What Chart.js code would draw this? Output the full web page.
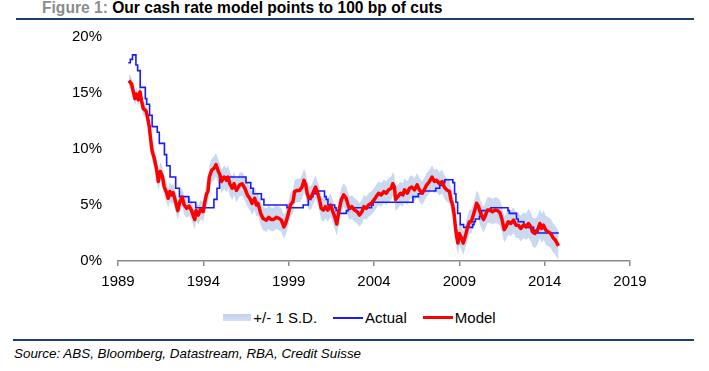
<!DOCTYPE html>
<html>
<head>
<meta charset="utf-8">
<script src="https://cdn.jsdelivr.net/npm/chart.js@4"></script>
<style>
  body { margin: 0; background: #fff; font-family: "Liberation Sans", Arial, sans-serif; }
  #wrap { position: relative; width: 709px; height: 371px; overflow: hidden; }
  #chart { position: absolute; left: 0; top: 0; }
  .title { position: absolute; left: 42px; top: -1px; font-size: 15.6px; font-weight: bold; color: #000; white-space: nowrap; }
  .title span { color: #8c8c8c; }
  .rule { position: absolute; left: 16px; width: 678px; height: 2px; background: #1c3f6e; }
  .legend { position: absolute; top: 309px; left: 0; width: 709px; display: flex; justify-content: center; align-items: center; font-size: 15px; padding-left: 10px; box-sizing: border-box; }
  .legend .item { display: flex; align-items: center; margin: 0 8px; }
  .legend .sw { display: inline-block; margin-right: 2px; }
  .source { position: absolute; left: 14px; top: 346px; font-size: 13.4px; font-style: italic; white-space: nowrap; }
</style>
</head>
<body>
<div id="wrap">
  <div class="title"><span>Figure 1: </span>Our cash rate model points to 100 bp of cuts</div>
  <div class="rule" style="top:18px"></div>
  <canvas id="chart" width="709" height="300"></canvas>
  <div class="legend">
    <div class="item"><span class="sw" style="width:28px;height:7px;background:linear-gradient(#c2d1ec,#d4dff2)"></span>+/- 1 S.D.</div>
    <div class="item"><span class="sw" style="width:30px;height:2px;background:#1a1aff"></span>Actual</div>
    <div class="item"><span class="sw" style="width:30px;height:3px;background:#ff0000"></span>Model</div>
  </div>
  <div class="rule" style="top:339px;left:13px;width:681px;height:1.5px"></div>
  <div class="source">Source: ABS, Bloomberg, Datastream, RBA, Credit Suisse</div>
</div>
<script>
// x axis ticks (years)
const yearTicks = [1989, 1994, 1999, 2004, 2009, 2014, 2019];
const rateTicks = [0, 5, 10, 15, 20];

// RBA cash rate, change dates and new level (%)
const actualDates = [1989.60, 1989.72, 1989.85, 1990.05, 1990.15, 1990.30, 1990.60, 1990.68, 1990.85, 1991.00, 1991.30,
  1991.42, 1991.72, 1991.85, 1992.05, 1992.38, 1992.60, 1993.15, 1993.55, 1994.62, 1994.80,
  1994.95, 1996.50, 1996.78, 1996.92, 1997.40, 1997.55, 1998.90, 1999.85, 2000.15, 2000.30,
  2000.42, 2000.62, 2001.10, 2001.20, 2001.30, 2001.70, 2001.78, 2001.90, 2002.38, 2002.50,
  2003.85, 2003.95, 2006.28, 2006.60, 2006.85, 2007.62, 2007.85, 2008.05, 2008.15, 2008.62,
  2008.72, 2008.80, 2008.90, 2009.05, 2009.25, 2009.78, 2009.86, 2009.94, 2010.18, 2010.24,
  2010.30, 2010.85, 2011.85, 2011.93, 2012.35, 2012.45, 2012.78, 2012.93, 2013.35, 2013.60,
  2014.83];
const actualRates = [17.7, 18.0, 18.4, 17.5, 17.0, 15.5, 14.5, 14.0, 13.0, 12.0, 11.5,
  10.5, 9.5, 8.5, 7.5, 6.5, 5.75, 5.25, 4.75, 5.5, 6.5,
  7.5, 7.0, 6.5, 6.0, 5.5, 5.0, 4.75, 5.0, 5.5, 5.75,
  6.0, 6.25, 5.75, 5.5, 5.0, 4.75, 4.5, 4.25, 4.5, 4.75,
  5.0, 5.25, 5.75, 6.0, 6.25, 6.5, 6.75, 7.0, 7.25, 7.0,
  6.0, 5.25, 4.25, 3.25, 3.0, 3.25, 3.5, 3.75, 4.0, 4.25,
  4.5, 4.75, 4.5, 4.25, 3.75, 3.5, 3.25, 3.0, 2.75, 2.5,
  2.5];

// model estimate (%)
const modelDates = [1989.64, 1989.80, 1989.90, 1989.99, 1990.09, 1990.19, 1990.29, 1990.38, 1990.48, 1990.64,
  1990.71, 1990.83, 1990.91, 1991.00, 1991.12, 1991.26, 1991.36, 1991.48, 1991.61, 1991.71,
  1991.85, 1991.94, 1992.04, 1992.14, 1992.23, 1992.39, 1992.50, 1992.63, 1992.76, 1992.88,
  1993.02, 1993.17, 1993.31, 1993.44, 1993.50, 1993.57, 1993.70, 1993.84, 1993.99, 1994.09,
  1994.19, 1994.27, 1994.35, 1994.49, 1994.64, 1994.74, 1994.88, 1994.97, 1995.07, 1995.22,
  1995.36, 1995.45, 1995.55, 1995.69, 1995.80, 1995.94, 1996.13, 1996.27, 1996.43, 1996.58,
  1996.72, 1996.85, 1997.01, 1997.11, 1997.20, 1997.36, 1997.50, 1997.69, 1997.83, 1997.99,
  1998.10, 1998.28, 1998.43, 1998.57, 1998.72, 1998.82, 1998.96, 1999.10, 1999.25, 1999.35,
  1999.49, 1999.64, 1999.78, 1999.90, 2000.00, 2000.09, 2000.19, 2000.32, 2000.46, 2000.58,
  2000.71, 2000.81, 2000.91, 2001.04, 2001.16, 2001.29, 2001.46, 2001.59, 2001.73, 2001.82,
  2001.94, 2002.08, 2002.22, 2002.37, 2002.50, 2002.60, 2002.70, 2002.86, 2003.02, 2003.15,
  2003.29, 2003.41, 2003.55, 2003.68, 2003.84, 2004.00, 2004.13, 2004.27, 2004.42, 2004.58,
  2004.72, 2004.85, 2005.01, 2005.10, 2005.20, 2005.26, 2005.40, 2005.55, 2005.69, 2005.79,
  2005.95, 2006.08, 2006.21, 2006.37, 2006.53, 2006.66, 2006.82, 2006.96, 2007.09, 2007.25,
  2007.40, 2007.54, 2007.67, 2007.83, 2007.99, 2008.12, 2008.26, 2008.42, 2008.51, 2008.61,
  2008.69, 2008.77, 2008.84, 2008.92, 2009.00, 2009.12, 2009.23, 2009.35, 2009.49, 2009.59,
  2009.70, 2009.82, 2009.94, 2010.01, 2010.13, 2010.21, 2010.32, 2010.42, 2010.51, 2010.65,
  2010.79, 2010.94, 2011.10, 2011.24, 2011.38, 2011.50, 2011.63, 2011.73, 2011.87, 2012.02,
  2012.18, 2012.31, 2012.45, 2012.60, 2012.76, 2012.90, 2013.05, 2013.19, 2013.29, 2013.43,
  2013.58, 2013.72, 2013.82, 2013.93, 2014.07, 2014.21, 2014.36, 2014.50, 2014.61, 2014.72,
  2014.81];
const modelRates = [16.1, 15.8, 15.1, 14.5, 14.9, 14.4, 15.1, 14.3, 13.6, 13.4,
  13.0, 12.0, 10.9, 9.8, 9.2, 8.2, 7.1, 8.0, 7.5, 6.6,
  6.1, 5.6, 6.2, 5.9, 6.1, 5.2, 4.5, 5.3, 5.7, 5.0,
  4.7, 4.9, 4.5, 3.9, 3.7, 4.5, 4.1, 4.6, 4.4, 5.3,
  6.0, 6.2, 7.5, 8.1, 8.3, 8.6, 8.0, 7.7, 7.1, 7.5,
  7.2, 7.5, 6.9, 6.5, 6.9, 6.3, 6.8, 6.9, 6.5, 5.9,
  5.6, 5.15, 5.6, 5.0, 5.15, 4.25, 3.8, 3.65, 3.9, 3.7,
  3.7, 3.9, 3.8, 3.65, 3.05, 3.35, 4.1, 5.0, 5.3, 6.2,
  6.3, 6.3, 6.6, 7.2, 6.8, 6.0, 5.6, 5.7, 6.2, 6.6,
  6.0, 5.45, 4.7, 4.55, 4.85, 4.55, 5.0, 4.4, 3.8, 3.3,
  4.4, 5.45, 5.9, 5.6, 4.9, 4.7, 4.85, 4.55, 4.4, 4.1,
  4.4, 4.85, 4.7, 5.0, 5.15, 5.45, 5.75, 6.05, 5.9, 6.2,
  6.05, 6.35, 6.5, 6.9, 6.6, 5.5, 5.75, 6.05, 5.9, 6.35,
  6.05, 6.5, 6.6, 6.35, 6.8, 6.35, 6.05, 6.4, 6.8, 7.1,
  7.5, 7.1, 7.2, 6.9, 7.1, 6.6, 6.35, 6.2, 5.45, 5.0,
  4.25, 3.05, 2.2, 1.6, 2.45, 2.05, 1.6, 2.2, 3.05, 3.5,
  3.5, 4.1, 4.7, 5.15, 4.85, 4.4, 4.0, 3.7, 4.0, 4.55,
  4.55, 4.4, 4.55, 4.5, 4.3, 3.7, 2.8, 3.05, 3.5, 3.35,
  3.65, 3.2, 3.2, 2.9, 3.2, 3.05, 3.35, 3.05, 2.6, 2.45,
  2.75, 3.35, 2.9, 3.2, 2.75, 2.6, 2.45, 2.05, 1.9, 1.6,
  1.35];

// one standard deviation of the model, by period start year
const sdFromYear = [1989, 1991, 1994, 2010, 2013];
const sdWidth = [0.6, 0.85, 1.05, 1.15, 1.3];

function sdAt(year) {
  let s = sdWidth[0];
  sdFromYear.forEach((y, i) => { if (year >= y) s = sdWidth[i]; });
  return s;
}

const modelPts = modelDates.map((d, i) => ({ x: d, y: modelRates[i] }));
const upperPts = modelDates.map((d, i) => ({ x: d, y: modelRates[i] + sdAt(d) }));
const lowerPts = modelDates.map((d, i) => ({ x: d, y: modelRates[i] - sdAt(d) }));
const actualPts = actualDates.map((d, i) => ({ x: d, y: actualRates[i] }));

const font = { family: '"Liberation Sans", Arial, sans-serif', size: 15 };

new Chart(document.getElementById('chart'), {
  type: 'line',
  data: {
    datasets: [
      { label: '+1 SD', data: upperPts, borderWidth: 0, pointRadius: 0, fill: '+1',
        backgroundColor: 'rgba(196,212,238,0.9)', borderColor: 'rgba(0,0,0,0)', order: 3 },
      { label: '-1 SD', data: lowerPts, borderWidth: 0, pointRadius: 0, fill: false,
        borderColor: 'rgba(0,0,0,0)', order: 4 },
      { label: 'Actual', data: actualPts, stepped: 'before', borderColor: '#1a1aff',
        borderWidth: 1.6, pointRadius: 0, fill: false, order: 1 },
      { label: 'Model', data: modelPts, borderColor: '#ff0000', borderWidth: 3.5,
        pointRadius: 0, fill: false, tension: 0, order: 0, borderJoinStyle: 'round' }
    ]
  },
  options: {
    responsive: false,
    animation: false,
    events: [],
    layout: { padding: { top: 37, right: 79, bottom: 7, left: 0 } },
    plugins: { legend: { display: false }, tooltip: { enabled: false } },
    scales: {
      x: {
        type: 'linear', min: 1989, max: 2019,
        afterBuildTicks: s => { s.ticks = yearTicks.map(v => ({ value: v })); },
        afterFit: s => { s.height = 32; },
        border: { display: true, color: '#8a8a8a', width: 1.5 },
        grid: { drawOnChartArea: false, drawTicks: true, tickLength: 5, color: '#8a8a8a', lineWidth: 1.5 },
        ticks: { color: '#000', font: font, padding: 7, maxRotation: 0, callback: v => String(v) }
      },
      y: {
        min: 0, max: 20,
        afterBuildTicks: s => { s.ticks = rateTicks.map(v => ({ value: v })); },
        afterFit: s => { s.width = 118; },
        border: { display: false },
        grid: { display: false },
        ticks: { color: '#000', font: font, padding: 8, callback: v => v + '%' }
      }
    }
  }
});
</script>
</body>
</html>
